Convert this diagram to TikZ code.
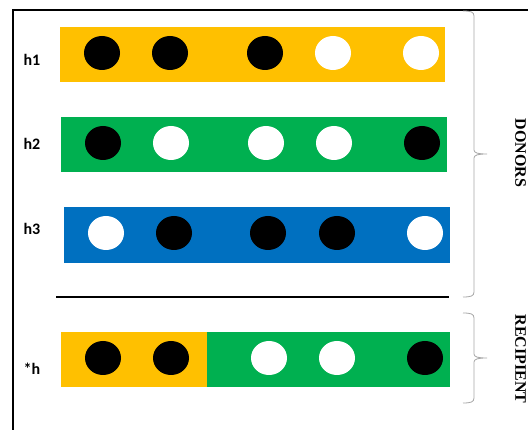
\documentclass[tikz,border=0pt]{standalone}
\usepackage{fontspec}
\setmainfont{Liberation Serif}
\newfontfamily\lblfont{Carlito}
\usetikzlibrary{shapes.geometric}
\definecolor{bOrange}{HTML}{FFC000}
\definecolor{bGreen}{HTML}{00B050}
\definecolor{bBlue}{HTML}{0070C0}
\definecolor{braceGray}{HTML}{A6A6A6}
\tikzset{
  bar/.style={fill=#1, draw=none, inner sep=0pt},
  dot/.style={ellipse, minimum width=36pt, minimum height=34pt, inner sep=0pt, draw=none, fill=#1},
  hlabel/.style={font=\lblfont\bfseries\fontsize{16}{16}\selectfont, inner sep=0pt},
  side/.style={font=\bfseries\fontsize{16}{16}\selectfont, rotate=-90, inner sep=0pt},
  bracepath/.style={draw=braceGray, line width=0.8pt},
  frameline/.style={draw=black, line width=2pt},
}
\begin{document}
\begin{tikzpicture}[x=1pt,y=-1pt]
\useasboundingbox (0,0) rectangle (528,430);
% frame
\coordinate (f0) at (13,430);
\coordinate (f1) at (13,10);
\coordinate (f2) at (528,10);
\draw[frameline] (f0) -- (f1) -- (f2);
% bars
\fill[bar=bOrange] (60,27) rectangle (445,82);
\fill[bar=bGreen] (61,117) rectangle (447,172);
\fill[bar=bBlue] (64,207) rectangle (450,263);
\fill[bar=bOrange] (61,332) rectangle (207,387);
\fill[bar=bGreen] (207,332) rectangle (450,387);
% h1
\node[dot=black] (a1) at (102,53) {};
\node[dot=black] (a2) at (170,53) {};
\node[dot=black] (a3) at (265,53) {};
\node[dot=white] (a4) at (333,53) {};
\node[dot=white] (a5) at (421,53) {};
% h2
\node[dot=black] (b1) at (103,143) {};
\node[dot=white] (b2) at (171,143) {};
\node[dot=white] (b3) at (266,143) {};
\node[dot=white] (b4) at (334,143) {};
\node[dot=black] (b5) at (422,143) {};
% h3
\node[dot=white] (c1) at (106,233) {};
\node[dot=black] (c2) at (174,233) {};
\node[dot=black] (c3) at (268,233) {};
\node[dot=black] (c4) at (337,233) {};
\node[dot=white] (c5) at (425,233) {};
% *h
\node[dot=black] (d1) at (103,358) {};
\node[dot=black] (d2) at (171,358) {};
\node[dot=white] (d3) at (269,358) {};
\node[dot=white] (d4) at (337,358) {};
\node[dot=black] (d5) at (425,358) {};
% labels
\node[hlabel] (l1) at (32,60) {h1};
\node[hlabel] (l2) at (32,144) {h2};
\node[hlabel] (l3) at (32,229) {h3};
\node[hlabel] (l4) at (32,369) {*h};
% separator
\coordinate (s0) at (56,297);
\coordinate (s1) at (449,297);
\draw[black, line width=2.5pt] (s0) -- (s1);
% braces
\draw[bracepath] (463,11) .. controls (471,11) and (474,12) .. (474,16) -- (474,150)
  .. controls (474,153) and (478,154) .. (487,154)
  .. controls (478,154) and (474,155) .. (474,158) -- (474,292)
  .. controls (474,296) and (471,297) .. (463,297);
\draw[bracepath] (463,313) .. controls (471,313) and (474,314) .. (474,318) -- (474,354)
  .. controls (474,357) and (478,358) .. (487,358)
  .. controls (478,358) and (474,359) .. (474,362) -- (474,398)
  .. controls (474,402) and (471,403) .. (463,403);
\node[side] (don) at (520.5,153) {DONORS};
\node[side] (rec) at (520.5,359) {RECIPIENT};
\end{tikzpicture}
\end{document}
